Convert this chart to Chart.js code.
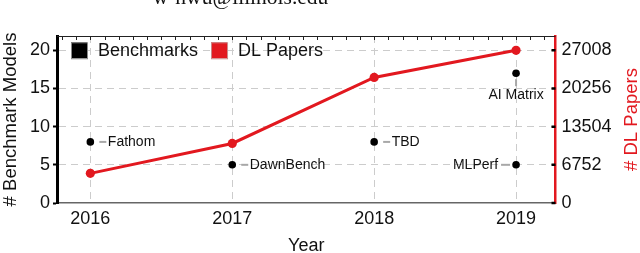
<!DOCTYPE html>
<html>
<head>
<meta charset="utf-8">
<script src="https://cdn.jsdelivr.net/npm/chart.js@4.4.1/dist/chart.umd.min.js"></script>
<style>
  html, body { margin: 0; padding: 0; background: #fff; }
  #wrap { width: 640px; height: 253px; position: relative; }
</style>
</head>
<body>
<div id="wrap"><canvas id="c" width="640" height="253"></canvas></div>
<script>
// ---- data ----
const years = [2016, 2017, 2018, 2019];
const dlPapers = [5240, 10530, 22210, 27008];
const benchNames = ['Fathom', 'DawnBench', 'TBD', 'MLPerf', 'AI Matrix'];
const benchYears = [2016, 2017, 2018, 2019, 2019];
const benchModels = [8, 5, 8, 5, 17];
const benchLabelSide = ['right', 'right', 'right', 'left', 'below'];
const xTicks = [2016, 2017, 2018, 2019];
const leftTicks = [0, 5, 10, 15, 20];
const rightTicks = [0, 6752, 13504, 20256, 27008];

const RED = '#e2181f';
const FONT = 'Liberation Sans, Arial, Helvetica, sans-serif';
Chart.defaults.font.family = FONT;
Chart.defaults.color = '#111';

const leftMax = 21.87;
const rightMax = leftMax * (rightTicks[rightTicks.length - 1] / leftTicks[leftTicks.length - 1]);

const decoPlugin = {
  id: 'deco',
  afterDraw(chart) {
    const ctx = chart.ctx;
    const a = chart.chartArea;
    const xs = chart.scales.x, ys = chart.scales.y, y2 = chart.scales.y2;
    ctx.save();
    // top border with minor ticks
    ctx.strokeStyle = '#222';
    ctx.lineWidth = 1;
    ctx.beginPath();
    ctx.moveTo(a.left, a.top + 0.5);
    ctx.lineTo(a.right, a.top + 0.5);
    ctx.stroke();
    const start = Math.ceil(xs.min * 10);
    const end = Math.floor(xs.max * 10);
    ctx.beginPath();
    for (let k = start; k <= end; k++) {
      const px = Math.round(xs.getPixelForValue(k / 10)) + 0.5;
      ctx.moveTo(px, a.top);
      ctx.lineTo(px, a.top + 4);
    }
    ctx.stroke();
    // right axis inward ticks
    ctx.strokeStyle = '#000';
    ctx.lineWidth = 2.5;
    ctx.beginPath();
    rightTicks.forEach(v => {
      const py = y2.getPixelForValue(v);
      ctx.moveTo(a.right - 4, py);
      ctx.lineTo(a.right, py);
    });
    ctx.stroke();

    // benchmark annotations
    ctx.font = '14px ' + FONT;
    ctx.fillStyle = '#111';
    benchNames.forEach((name, i) => {
      const px = xs.getPixelForValue(benchYears[i]);
      const py = ys.getPixelForValue(benchModels[i]);
      const side = benchLabelSide[i];
      ctx.strokeStyle = '#a8a8a8';
      ctx.lineWidth = 2;
      ctx.beginPath();
      if (side === 'right') {
        ctx.moveTo(px + 9, py); ctx.lineTo(px + 16, py);
        ctx.stroke();
        ctx.textAlign = 'left'; ctx.textBaseline = 'middle';
        ctx.fillText(name, px + 17.5, py + 0.5);
      } else if (side === 'left') {
        ctx.moveTo(px - 6, py); ctx.lineTo(px - 15, py);
        ctx.stroke();
        ctx.textAlign = 'right'; ctx.textBaseline = 'middle';
        ctx.fillText(name, px - 18, py + 0.5);
      } else {
        ctx.moveTo(px, py + 6); ctx.lineTo(px, py + 13);
        ctx.stroke();
        ctx.textAlign = 'center'; ctx.textBaseline = 'middle';
        ctx.fillText(name, px, py + 22);
      }
    });

    // legend
    ctx.font = '18px ' + FONT;
    ctx.textAlign = 'left';
    ctx.textBaseline = 'middle';
    let lx = a.left + 14;
    const ly = ys.getPixelForValue(20);
    const order = [0, 1];
    order.forEach(di => {
      const ds = chart.data.datasets[di];
      ctx.fillStyle = ds.backgroundColor;
      ctx.fillRect(lx, ly - 8, 16, 16);
      ctx.strokeStyle = di === 0 ? '#8a8a8a' : '#c98a8a';
      ctx.lineWidth = 1;
      ctx.strokeRect(lx + 0.5, ly - 7.5, 16, 16);
      ctx.fillStyle = '#111';
      ctx.fillText(ds.label, lx + 27, ly + 1);
      lx += 27 + ctx.measureText(ds.label).width + 13;
    });

    // axis titles
    ctx.font = '18.5px ' + FONT;
    ctx.fillStyle = '#111';
    ctx.textAlign = 'center';
    ctx.textBaseline = 'alphabetic';
    ctx.save();
    ctx.translate(16, (a.top + a.bottom) / 2);
    ctx.rotate(-Math.PI / 2);
    ctx.fillText('# Benchmark Models', 0, 0);
    ctx.restore();
    ctx.save();
    ctx.fillStyle = RED;
    ctx.translate(637, (a.top + a.bottom) / 2);
    ctx.rotate(-Math.PI / 2);
    ctx.fillText('# DL Papers', 0, 0);
    ctx.restore();
    ctx.font = '18px ' + FONT;
    ctx.fillText('Year', (a.left + a.right) / 2, 251);

    // header (cut off)
    ctx.font = '21.5px Liberation Serif, Times New Roman, serif';
    ctx.fillText('w-hwu@illinois.edu', 240.5, 3.5);
    ctx.restore();
  }
};

new Chart(document.getElementById('c'), {
  type: 'scatter',
  data: {
    datasets: [
      {
        label: 'Benchmarks',
        data: benchYears.map((x, i) => ({ x: x, y: benchModels[i] })),
        yAxisID: 'y',
        showLine: false,
        pointRadius: 3.8,
        pointHoverRadius: 3.8,
        backgroundColor: '#000',
        borderColor: '#000',
        borderWidth: 0
      },
      {
        label: 'DL Papers',
        data: years.map((x, i) => ({ x: x, y: dlPapers[i] })),
        yAxisID: 'y2',
        showLine: true,
        borderColor: RED,
        backgroundColor: RED,
        borderWidth: 3,
        pointRadius: 4.6,
        pointHoverRadius: 4.6,
        pointBorderWidth: 0
      }
    ]
  },
  options: {
    responsive: false,
    animation: false,
    events: [],
    layout: { padding: { top: 36, left: 0, right: 0, bottom: 0 } },
    plugins: { legend: { display: false }, tooltip: { enabled: false } },
    scales: {
      x: {
        type: 'linear',
        position: 'bottom',
        min: 2015.765,
        max: 2019.278,
        afterBuildTicks: s => { s.ticks = xTicks.map(v => ({ value: v })); },
        afterFit: s => { s.height = 50; },
        ticks: { font: { size: 18 }, color: '#111', padding: 5, maxRotation: 0, callback: v => String(v) },
        grid: { color: '#cccccc', lineWidth: 1, drawTicks: false },
        border: { color: '#666', width: 1.5, dash: [7, 5] }
      },
      y: {
        position: 'left',
        min: 0,
        max: leftMax,
        afterBuildTicks: s => { s.ticks = leftTicks.map(v => ({ value: v })); },
        afterFit: s => { s.width = 57; },
        ticks: { font: { size: 18 }, color: '#111', padding: 3, callback: v => String(v) },
        grid: {
          color: c => (c.tick && c.tick.value === 0) ? 'rgba(0,0,0,0)' : '#cccccc',
          lineWidth: 1, tickColor: '#000', tickLength: 4, tickWidth: 2
        },
        border: { color: '#000', width: 3, dash: [7, 5] }
      },
      y2: {
        position: 'right',
        min: 0,
        max: rightMax,
        afterBuildTicks: s => { s.ticks = rightTicks.map(v => ({ value: v })); },
        afterFit: s => { s.width = 84.5; },
        ticks: { font: { size: 18 }, color: '#111', padding: 6, callback: v => String(v) },
        grid: { drawOnChartArea: false, drawTicks: false },
        border: { color: RED, width: 2.5 }
      }
    }
  },
  plugins: [decoPlugin]
});
</script>
</body>
</html>
